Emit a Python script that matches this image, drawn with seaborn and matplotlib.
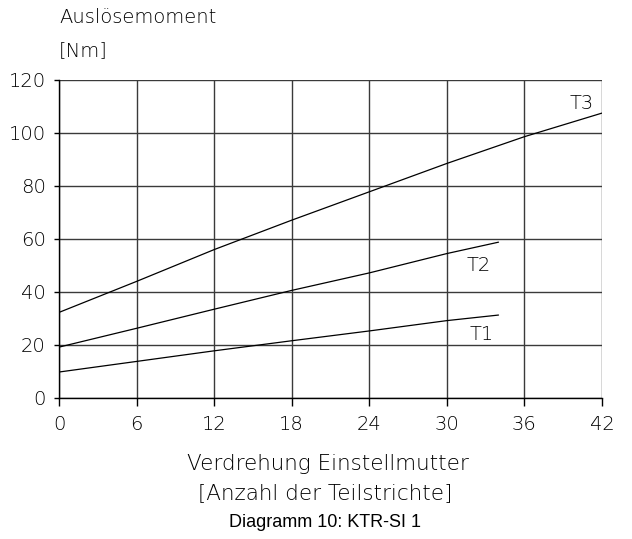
import pandas as pd
import matplotlib.pyplot as plt
import seaborn as sns

# values
x_t3 = [0, 6, 12, 18, 24, 30, 36, 42]
y_t3 = [32.3, 44.0, 56.0, 67.1, 77.8, 88.5, 98.6, 107.5]
x_t2 = [0, 6, 12, 18, 24, 30, 34]
y_t2 = [19.2, 26.3, 33.5, 40.6, 47.2, 54.5, 58.8]
x_t1 = [0, 6, 12, 18, 24, 30, 34]
y_t1 = [9.8, 13.8, 17.8, 21.6, 25.3, 29.2, 31.3]
x_ticks = [0, 6, 12, 18, 24, 30, 36, 42]
y_ticks = [0, 20, 40, 60, 80, 100, 120]

df = pd.concat([
    pd.DataFrame({'x': x_t3, 'y': y_t3, 'serie': 'T3'}),
    pd.DataFrame({'x': x_t2, 'y': y_t2, 'serie': 'T2'}),
    pd.DataFrame({'x': x_t1, 'y': y_t1, 'serie': 'T1'}),
])

sns.set_theme(style="white")
plt.rcParams['font.family'] = ['DejaVu Sans']
# thin technical-looking lettering
tech = dict(family='DejaVu Sans', fontweight='light', color='black')

fig = plt.figure(figsize=(6.32, 5.39), dpi=100)
ax = fig.add_axes([0.0934, 0.2616, 0.859, 0.59])

sns.lineplot(data=df, x='x', y='y', hue='serie', palette=['black'] * 3,
             legend=False, linewidth=0.9, ax=ax)

ax.set_xlim(0, 42)
ax.set_ylim(0, 120)
ax.set_xticks(x_ticks)
ax.set_yticks(y_ticks)
ax.grid(True, color='#3a3a3a', linewidth=1.0)
for s in ['left', 'bottom']:
    ax.spines[s].set_color('black')
    ax.spines[s].set_linewidth(1.0)
ax.spines['top'].set_visible(False)
ax.spines['right'].set_visible(False)
ax.tick_params(axis='x', direction='out', length=6, width=1.0, pad=6,
               bottom=True, colors='black')
ax.tick_params(axis='y', direction='out', length=3.5, width=1.0, pad=6,
               left=True, colors='black')
for lab in ax.get_xticklabels() + ax.get_yticklabels():
    lab.set_fontsize(14)
    lab.set_fontfamily('DejaVu Sans')
    lab.set_fontweight('light')
    lab.set_color('black')
ax.set_xlabel('')
ax.set_ylabel('')

ax.text(40.4, 111, 'T3', ha='center', va='center', fontsize=14, **tech)
ax.text(32.5, 50, 'T2', ha='center', va='center', fontsize=14, **tech)
ax.text(32.7, 24, 'T1', ha='center', va='center', fontsize=14, **tech)

fig.text(0.0934, 0.968, 'Auslösemoment', ha='left', va='center', fontsize=14, **tech)
fig.text(0.0934, 0.907, '[Nm]', ha='left', va='center', fontsize=14, **tech)
fig.text(0.519, 0.1395, 'Verdrehung Einstellmutter', ha='center', va='center', fontsize=15.5, **tech)
fig.text(0.515, 0.0845, '[Anzahl der Teilstrichte]', ha='center', va='center', fontsize=15.5, **tech)
fig.text(0.514, 0.0315, 'Diagramm 10: KTR-SI 1', ha='center', va='center',
         fontsize=13, family='Liberation Sans', color='black')

plt.savefig('out.png', dpi=100)
